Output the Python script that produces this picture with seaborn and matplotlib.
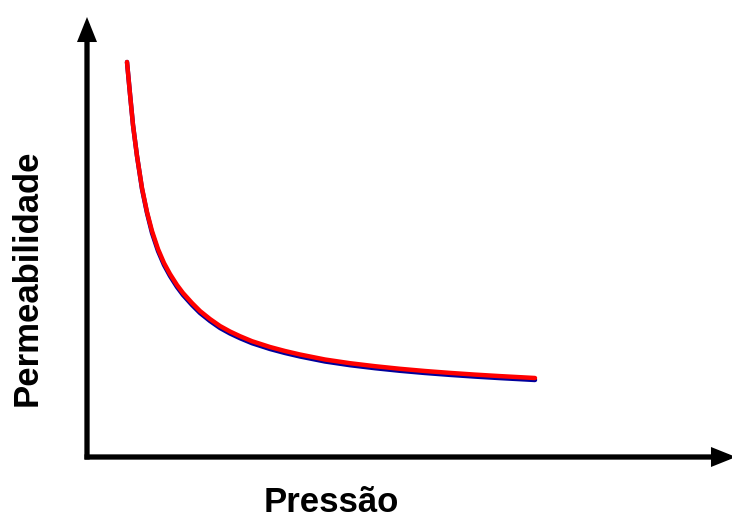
import matplotlib
matplotlib.use("Agg")
import matplotlib.pyplot as plt
import pandas as pd
import seaborn as sns

# Curve values (pressure, permeability in arbitrary units)
pressao = [40, 43, 46, 50, 55, 60, 65, 71, 77, 83, 90, 96, 105, 113, 123,
           133, 143, 153, 165, 183, 198, 213, 238, 263, 288, 313, 338, 363,
           388, 413, 448]
perm_vermelha = [395, 363, 332, 301, 269, 245, 226, 208, 194, 183, 172, 164,
                 154, 146, 138, 131, 125.5, 120.8, 115.8, 110, 106, 102.5,
                 97.5, 93.8, 90.8, 88.2, 86, 84.1, 82.4, 80.9, 79]
perm_azul = [395, 363, 332, 301, 268, 244, 224, 206, 192, 181, 170, 162,
             152, 144, 136, 129, 123.5, 118.8, 113.8, 108, 104, 100.5,
             95.5, 91.8, 88.8, 86.2, 84, 82.1, 80.4, 78.9, 77]

x_label = "Pressão"
y_label = "Permeabilidade"

df = pd.DataFrame({
    "Pressão": pressao * 2,
    "Permeabilidade": perm_azul + perm_vermelha,
    "Curva": ["azul"] * len(pressao) + ["vermelha"] * len(pressao),
})

sns.set_theme(style="white")
plt.rcParams["font.family"] = ["Liberation Sans", "DejaVu Sans"]

fig = plt.figure(figsize=(7.32, 5.18), dpi=100)
ax = fig.add_axes([0, 0, 1, 1])

sns.lineplot(data=df, x="Pressão", y="Permeabilidade", hue="Curva",
             palette={"azul": "#00009c", "vermelha": "#ff0000"},
             linewidth=3.2, legend=False, ax=ax, estimator=None, sort=False,
             solid_joinstyle="round", solid_capstyle="round")

ax.set_xlim(-87, 645)
ax.set_ylim(-61, 457)
ax.axis("off")

# axes with arrow heads
arrow = dict(arrowstyle="-|>,head_length=0.55,head_width=0.22", color="black",
             lw=3.8, mutation_scale=20, shrinkA=0, shrinkB=0,
             joinstyle="miter", capstyle="butt")
ax.annotate("", xy=(0, 440), xytext=(0, -2.5), arrowprops=arrow,
            annotation_clip=False)
ax.annotate("", xy=(649, 0), xytext=(-2.5, 0), arrowprops=arrow,
            annotation_clip=False)

fig.text(331 / 732, 1 - 503 / 518, x_label, fontsize=25, fontweight="bold",
         color="black", ha="center", va="center")
fig.text(27 / 732, 1 - 278 / 518, y_label, fontsize=25, fontweight="bold",
         color="black", rotation=90, ha="center", va="center")

fig.savefig("out.png", dpi=100)
